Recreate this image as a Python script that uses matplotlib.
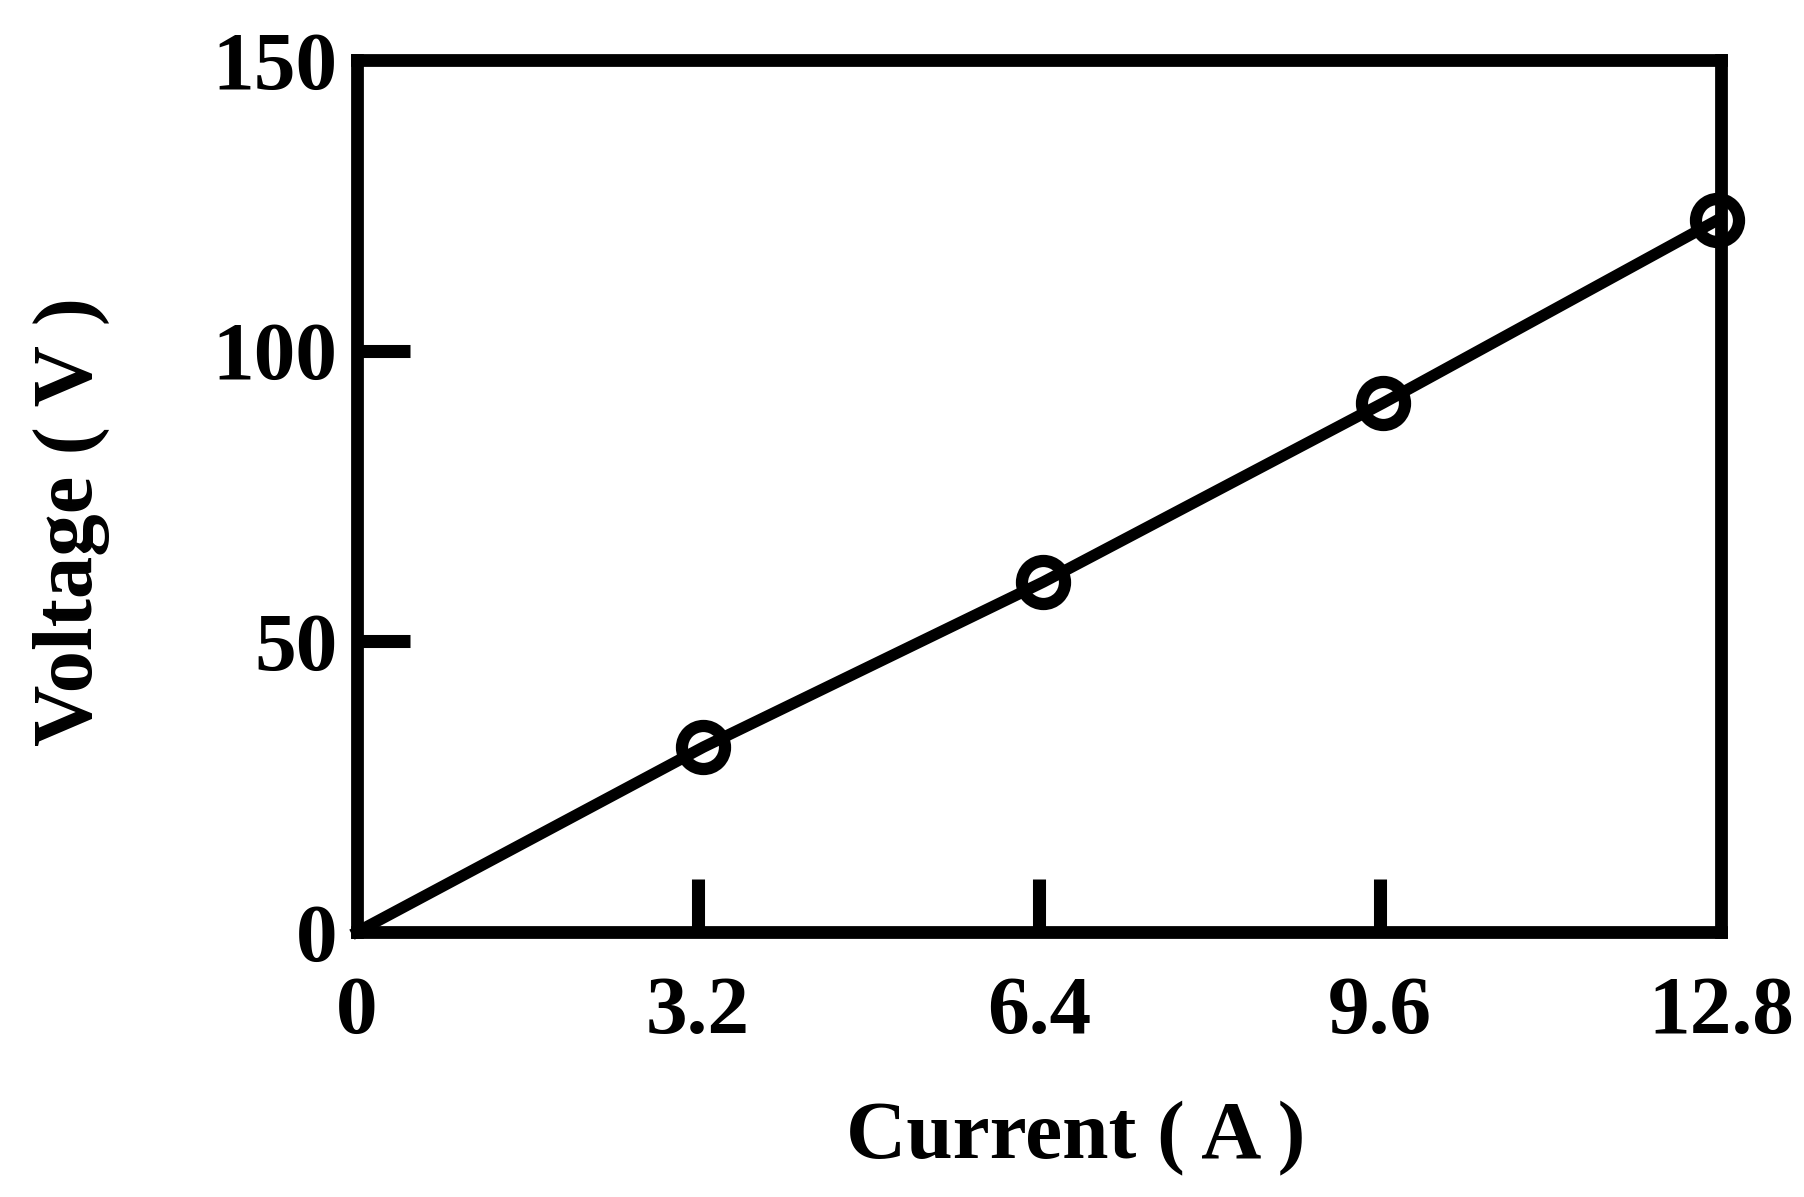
import matplotlib
matplotlib.use("Agg")
import matplotlib.pyplot as plt

# dati
corrente = [0, 3.25, 6.44, 9.63, 12.76]
tensione = [0, 31.8, 60.2, 91.0, 122.4]
x_ticks = [0, 3.2, 6.4, 9.6, 12.8]
x_labels = ["0", "3.2", "6.4", "9.6", "12.8"]
y_ticks = [0, 50, 100, 150]
y_labels = ["0", "50", "100", "150"]

plt.rcParams['font.family'] = ['Liberation Serif', 'DejaVu Serif']
plt.rcParams['font.weight'] = 'bold'

fig = plt.figure(figsize=(18.04, 11.97), dpi=100)
ax = fig.add_axes([0.1979, 0.2214, 0.7561, 0.7285])

ax.plot(corrente, tensione, color="black", lw=8.2, clip_on=False, zorder=3)
ax.plot(corrente[1:], tensione[1:], linestyle="none", marker="o", ms=31,
        mfc="none", mec="black", mew=8.8, clip_on=False, zorder=4)

ax.set_xlim(0, 12.8)
ax.set_ylim(0, 150)
ax.set_xticks(x_ticks)
ax.set_xticklabels(x_labels)
ax.set_yticks(y_ticks)
ax.set_yticklabels(y_labels)

for s in ax.spines.values():
    s.set_linewidth(9.2)

ax.tick_params(axis="x", direction="in", length=38, width=9.4, pad=32, labelsize=60)
ax.tick_params(axis="y", direction="in", length=38, width=9.4, pad=14, labelsize=60)
for t in ax.get_xticklabels() + ax.get_yticklabels():
    t.set_fontweight("bold")

# niente trattini agli angoli
for asse in (ax.xaxis, ax.yaxis):
    tk = asse.get_major_ticks()
    tk[0].tick1line.set_visible(False)
    tk[-1].tick1line.set_visible(False)

ax.set_xlabel("Current ( A )", fontsize=60, fontweight="bold", va="center")
ax.set_ylabel("Voltage ( V )", fontsize=61, fontweight="bold", va="center")
ax.xaxis.set_label_coords(0.527, -0.237)
ax.yaxis.set_label_coords(-0.209, 0.471)

plt.savefig("out.png", dpi=100)
plt.close()
